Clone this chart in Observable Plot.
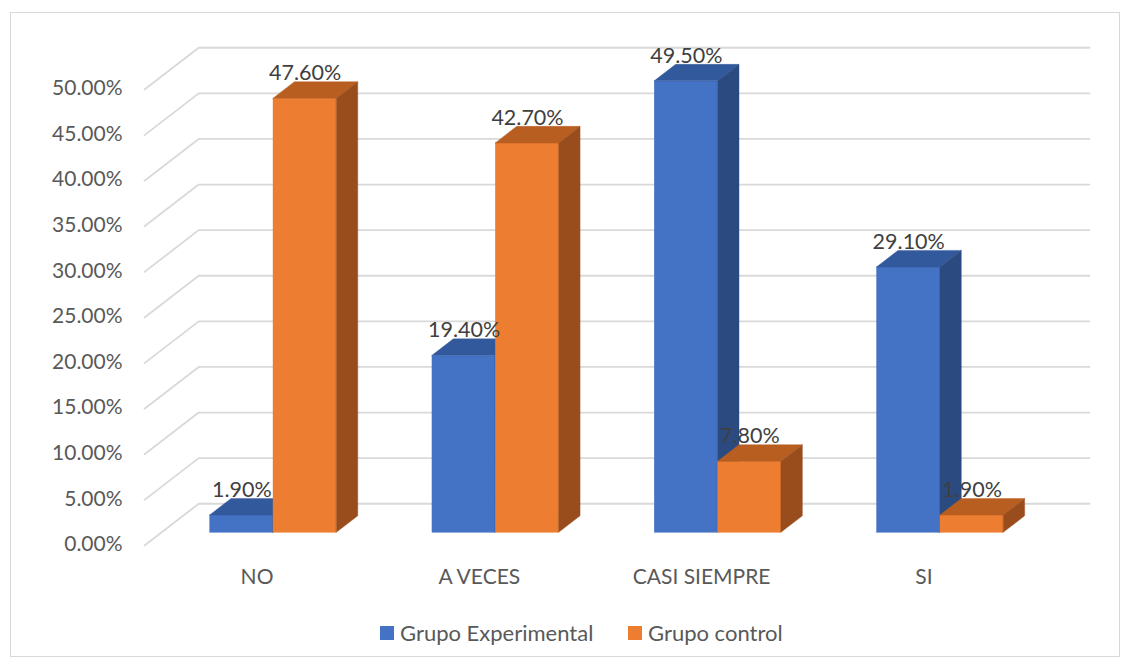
<!DOCTYPE html>
<html><head><meta charset="utf-8">
<script src="https://cdn.jsdelivr.net/npm/d3@7"></script>
<script src="https://cdn.jsdelivr.net/npm/@observablehq/plot@0.6"></script>
<style>
body{margin:0;background:#fff;font-family:Lato,"Open Sans",sans-serif;}
#wrap{position:relative;width:1130px;height:662px;overflow:hidden;}
#frame{position:absolute;left:10px;top:12px;width:1108px;height:643px;border:1.5px solid #d9d9d9;pointer-events:none;}
#chart{position:absolute;left:0;top:0;}
.leg{position:absolute;top:622px;display:flex;align-items:center;font-size:22px;color:#595959;line-height:22px;}
.leg span.sw{display:inline-block;width:14px;height:14px;margin-right:6px;}
</style></head>
<body><div id="wrap"><div id="frame"></div><div id="chart"></div>
<div id="legend"></div></div>
<script>
const categories = ["NO", "A VECES", "CASI SIEMPRE", "SI"];
const seriesNames = ["Grupo Experimental", "Grupo control"];
const experimental = [1.9, 19.4, 49.5, 29.1];
const control = [47.6, 42.7, 7.8, 1.9];
const yTicks = [0, 5, 10, 15, 20, 25, 30, 35, 40, 45, 50];

const palette = [
  {front: "#4472C4", top: "#32599B", side: "#2B4A80"},
  {front: "#ED7D31", top: "#B95E21", side: "#9A4D1C"}
];

// pseudo-3D geometry (in data units)
const DX = 0.0963, DY = 1.81, Z_FRONT = -0.77, Z_BACK = 1.76, X_LEFT = -0.506, X_RIGHT = 3.501, BAR_W = 0.285;
const P = (x, v, z) => ({x: x + z * DX, y: v + z * DY});

const seriesValues = [experimental, control];
const bars = seriesValues.map((vals, s) => vals.map((v, i) => {
  const x0 = i + (s === 0 ? -BAR_W : 0);
  return {id: s + "-" + i, s, i, x0, x1: x0 + BAR_W, v};
}));

const tops = bars.map(bs => bs.flatMap(b => [
  {id: b.id, y: b.v, x1: b.x0, x2: b.x1},
  {id: b.id, y: b.v + DY, x1: b.x0 + DX, x2: b.x1 + DX}
]));
const sides = bars.map(bs => bs.flatMap(b => [
  {id: b.id, x: b.x1, y1: 0, y2: b.v},
  {id: b.id, x: b.x1 + DX, y1: DY, y2: b.v + DY}
]));

const grid = yTicks.flatMap(k => [
  {k, ...P(X_LEFT, k, Z_FRONT)},
  {k, ...P(X_LEFT, k, Z_BACK)},
  {k, ...P(X_RIGHT, k, Z_BACK)}
]);

const fmt = v => v.toFixed(2) + "%";

function barMarks(s) {
  const c = palette[s];
  return [
    Plot.rect(bars[s], {x1: "x0", x2: "x1", y1: d => 0, y2: "v", fill: c.front, stroke: c.front, strokeWidth: 0.4}),
    Plot.areaX(tops[s], {y: "y", x1: "x1", x2: "x2", z: "id", fill: c.top, stroke: c.top, strokeWidth: 0.4}),
    Plot.areaY(sides[s], {x: "x", y1: "y1", y2: "y2", z: "id", fill: c.side, stroke: c.side, strokeWidth: 0.4})
  ];
}
function labelMark(s) {
  return Plot.text(bars[s], {x: d => (d.x0 + d.x1) / 2, y: d => d.v + DY, dy: -9, text: d => fmt(d.v), fill: "#404040", fontSize: 21.5});
}

const chart = Plot.plot({
  width: 1130, height: 610,
  x: {type: "linear", domain: [-0.7, 3.7], range: [117.4, 1095.5], axis: null},
  y: {type: "linear", domain: [-3, 58], range: [559.66, 3.34], axis: null},
  style: {fontFamily: "Lato, 'Open Sans', sans-serif", background: "transparent", overflow: "visible"},
  marks: [
    Plot.line(grid, {x: "x", y: "y", z: "k", stroke: "#d9d9d9", strokeWidth: 1.8}),
    Plot.text(yTicks, {x: k => P(X_LEFT, k, Z_FRONT).x, y: k => P(X_LEFT, k, Z_FRONT).y, text: fmt, textAnchor: "end", dx: -22, dy: -1, fill: "#595959", fontSize: 21}),
    Plot.text(categories, {x: (d, i) => P(i, 0, Z_FRONT).x, y: (d, i) => P(i, 0, Z_FRONT).y, dy: 32, text: d => d, fill: "#595959", fontSize: 21}),
    ...barMarks(0),
    ...barMarks(1),
    labelMark(0),
    labelMark(1)
  ]
});
document.getElementById("chart").appendChild(chart);

const legend = document.getElementById("legend");
const legLeft = [380, 628];
seriesNames.forEach((name, s) => {
  const item = document.createElement("div");
  item.className = "leg";
  item.style.left = legLeft[s] + "px";
  item.innerHTML = `<span class="sw" style="background:${palette[s].front}"></span>${name}`;
  legend.appendChild(item);
});
</script>
</body></html>
